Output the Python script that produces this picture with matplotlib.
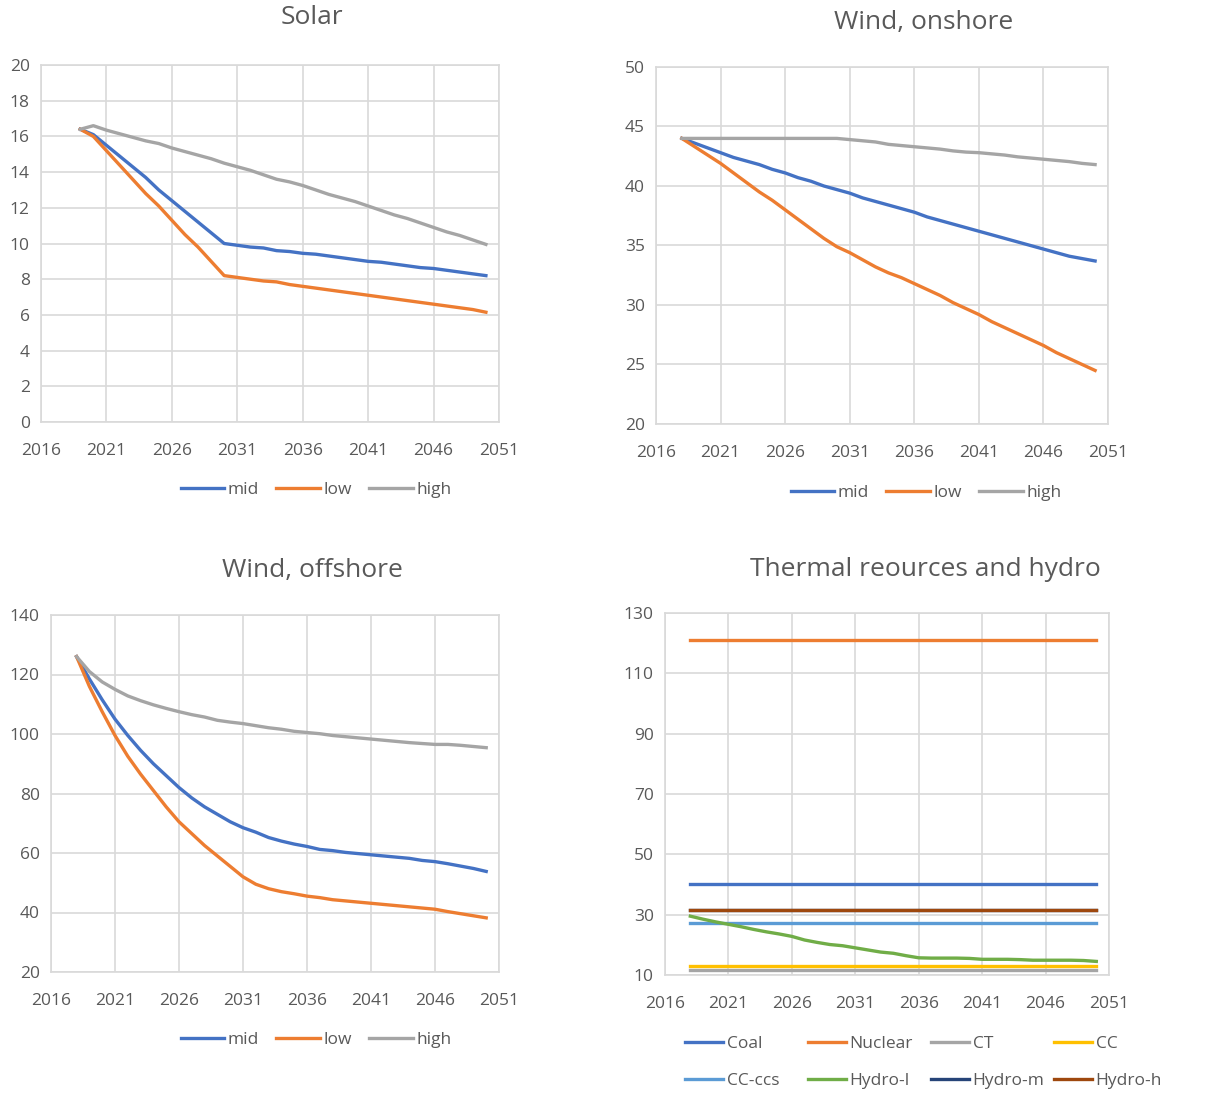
import matplotlib
matplotlib.use("Agg")
import matplotlib.pyplot as plt
from matplotlib.lines import Line2D

plt.rcParams['font.family'] = ['Open Sans', 'DejaVu Sans']

# ---------------- data ----------------
solar_years = list(range(2019, 2051))
solar_mid = [16.4, 16.1, 15.5, 14.9, 14.3, 13.7, 13.0, 12.4, 11.8, 11.2, 10.6, 10.0,
             9.9, 9.8, 9.75, 9.6, 9.55, 9.45, 9.4, 9.3, 9.2, 9.1, 9.0, 8.95, 8.85,
             8.75, 8.65, 8.6, 8.5, 8.4, 8.3, 8.2]
solar_low = [16.4, 16.0, 15.2, 14.4, 13.6, 12.8, 12.1, 11.3, 10.5, 9.8, 9.0, 8.2,
             8.1, 8.0, 7.9, 7.85, 7.7, 7.6, 7.5, 7.4, 7.3, 7.2, 7.1, 7.0, 6.9,
             6.8, 6.7, 6.6, 6.5, 6.4, 6.3, 6.15]
solar_high = [16.4, 16.6, 16.35, 16.15, 15.95, 15.75, 15.6, 15.35, 15.15, 14.95, 14.75, 14.5,
              14.3, 14.1, 13.85, 13.6, 13.45, 13.25, 13.0, 12.75, 12.55, 12.35, 12.1, 11.85,
              11.6, 11.4, 11.15, 10.9, 10.65, 10.45, 10.2, 9.95]

years = list(range(2018, 2051))
on_mid = [44.0, 43.6, 43.2, 42.8, 42.4, 42.1, 41.8, 41.4, 41.1, 40.7, 40.4, 40.0, 39.7,
          39.4, 39.0, 38.7, 38.4, 38.1, 37.8, 37.4, 37.1, 36.8, 36.5, 36.2, 35.9, 35.6,
          35.3, 35.0, 34.7, 34.4, 34.1, 33.9, 33.7]
on_low = [44.0, 43.3, 42.6, 41.9, 41.1, 40.3, 39.5, 38.8, 38.0, 37.2, 36.4, 35.6, 34.9,
          34.4, 33.8, 33.2, 32.7, 32.3, 31.8, 31.3, 30.8, 30.2, 29.7, 29.2, 28.6, 28.1,
          27.6, 27.1, 26.6, 26.0, 25.5, 25.0, 24.5]
on_high = [44.0, 44.0, 44.0, 44.0, 44.0, 44.0, 44.0, 44.0, 44.0, 44.0, 44.0, 44.0, 44.0,
           43.9, 43.8, 43.7, 43.5, 43.4, 43.3, 43.2, 43.1, 42.95, 42.85, 42.8, 42.7, 42.6,
           42.45, 42.35, 42.25, 42.15, 42.05, 41.9, 41.8]

off_mid = [126, 118.5, 111.5, 105, 99.5, 94.5, 90, 86, 82, 78.5, 75.5, 73, 70.5, 68.5,
           67, 65.2, 64, 63, 62.2, 61.2, 60.8, 60.2, 59.8, 59.4, 59, 58.6, 58.2, 57.5,
           57.1, 56.4, 55.6, 54.8, 53.8]
off_low = [126, 116, 107.5, 99.5, 92.5, 86.5, 81, 75.5, 70.5, 66.5, 62.5, 59, 55.5, 52,
           49.5, 48, 47, 46.3, 45.5, 45, 44.3, 43.9, 43.5, 43.1, 42.7, 42.3, 41.9, 41.5,
           41.1, 40.3, 39.6, 38.9, 38.2]
off_high = [126, 121, 117.5, 115, 112.8, 111.2, 109.8, 108.6, 107.5, 106.5, 105.7, 104.6,
            104, 103.5, 102.8, 102.1, 101.6, 100.9, 100.5, 100.1, 99.5, 99.1, 98.7, 98.3,
            97.9, 97.5, 97.1, 96.8, 96.5, 96.5, 96.2, 95.8, 95.4]

coal = [40.3] * len(years)
nuclear = [121.0] * len(years)
ct = [11.7] * len(years)
cc = [13.1] * len(years)
cc_ccs = [27.2] * len(years)
hydro_l = [29.5, 28.5, 27.6, 26.8, 26.0, 25.1, 24.3, 23.6, 22.8, 21.6, 20.8, 20.1, 19.7,
           19.0, 18.3, 17.6, 17.2, 16.4, 15.7, 15.6, 15.6, 15.6, 15.5, 15.2, 15.2, 15.2,
           15.1, 14.9, 14.9, 14.9, 14.9, 14.8, 14.5]
hydro_m = [31.6] * len(years)
hydro_h = [31.6] * len(years)

x_ticks = [2016, 2021, 2026, 2031, 2036, 2041, 2046, 2051]

BLUE = '#4472C4'; ORANGE = '#ED7D31'; GRAY = '#A5A5A5'; YELLOW = '#FFC000'
LBLUE = '#5B9BD5'; GREEN = '#70AD47'; NAVY = '#264478'; BROWN = '#9E480E'
TXT = '#595959'; GRID = '#D9D9D9'

W, H = 1224, 1094
fig = plt.figure(figsize=(W / 100, H / 100), dpi=100)
fig.patch.set_facecolor('white')

FS = 12.5
LW = 2.4


def make_ax(l, r, t, b):
    return fig.add_axes([l / W, 1 - b / H, (r - l) / W, (b - t) / H])


def style(ax, ylim, yticks, title, tx, ty):
    ax.set_xlim(2016, 2051)
    ax.set_ylim(*ylim)
    ax.set_xticks(x_ticks)
    ax.set_yticks(yticks)
    ax.grid(True, color=GRID, linewidth=1.2)
    ax.set_axisbelow(True)
    for s in ax.spines.values():
        s.set_color(GRID)
        s.set_linewidth(1.2)
    ax.tick_params(axis='x', length=0, colors=TXT, labelsize=FS, pad=15)
    ax.tick_params(axis='y', length=0, colors=TXT, labelsize=FS, pad=8)
    fig.text(tx / W, 1 - ty / H, title, ha='center', va='center',
             fontsize=19, color=TXT)


def three_legend(cx, cy):
    handles = [Line2D([], [], color=c, lw=LW) for c in (BLUE, ORANGE, GRAY)]
    fig.legend(handles, ['mid', 'low', 'high'], loc='center',
               bbox_to_anchor=(cx / W, 1 - cy / H), ncol=3, frameon=False,
               fontsize=FS, labelcolor=TXT, handlelength=2.5, handletextpad=0.2,
               columnspacing=1.0)


# Solar
ax1 = make_ax(41, 499, 65, 422)
ax1.plot(solar_years, solar_mid, color=BLUE, lw=LW)
ax1.plot(solar_years, solar_low, color=ORANGE, lw=LW)
ax1.plot(solar_years, solar_high, color=GRAY, lw=LW)
style(ax1, (0, 20), range(0, 21, 2), 'Solar', 312, 18)
three_legend(316, 490)

# Wind onshore
ax2 = make_ax(656, 1108, 67, 424)
ax2.plot(years, on_mid, color=BLUE, lw=LW)
ax2.plot(years, on_low, color=ORANGE, lw=LW)
ax2.plot(years, on_high, color=GRAY, lw=LW)
style(ax2, (20, 50), range(20, 51, 5), 'Wind, onshore', 924, 22)
three_legend(926, 493)

# Wind offshore
ax3 = make_ax(51, 499, 615, 972)
ax3.plot(years, off_mid, color=BLUE, lw=LW)
ax3.plot(years, off_low, color=ORANGE, lw=LW)
ax3.plot(years, off_high, color=GRAY, lw=LW)
style(ax3, (20, 140), range(20, 141, 20), 'Wind, offshore', 312, 571)
three_legend(316, 1040)

# Thermal
ax4 = make_ax(665, 1109, 613, 975)
series = [('Coal', coal, BLUE), ('Nuclear', nuclear, ORANGE), ('CT', ct, GRAY),
          ('CC', cc, YELLOW), ('CC-ccs', cc_ccs, LBLUE), ('Hydro-l', hydro_l, GREEN),
          ('Hydro-m', hydro_m, NAVY), ('Hydro-h', hydro_h, BROWN)]
for name, vals, col in series:
    ax4.plot(years, vals, color=col, lw=LW)
style(ax4, (10, 130), range(10, 131, 20), 'Thermal reources and hydro', 925, 569)

# legend: 4 equal-width columns, filled row by row (as in the spreadsheet)
col_x = [685, 808, 931, 1054]
for c in range(4):
    items = [series[c], series[c + 4]]
    handles = [Line2D([], [], color=s[2], lw=LW) for s in items]
    fig.legend(handles, [s[0] for s in items], loc='center left',
               bbox_to_anchor=(col_x[c] / W, 1 - 1062.5 / H), ncol=1, frameon=False,
               fontsize=FS, labelcolor=TXT, handlelength=2.2, handletextpad=0.2,
               labelspacing=1.2, borderpad=0, borderaxespad=0)

fig.savefig('out.png', dpi=100, facecolor='white')
